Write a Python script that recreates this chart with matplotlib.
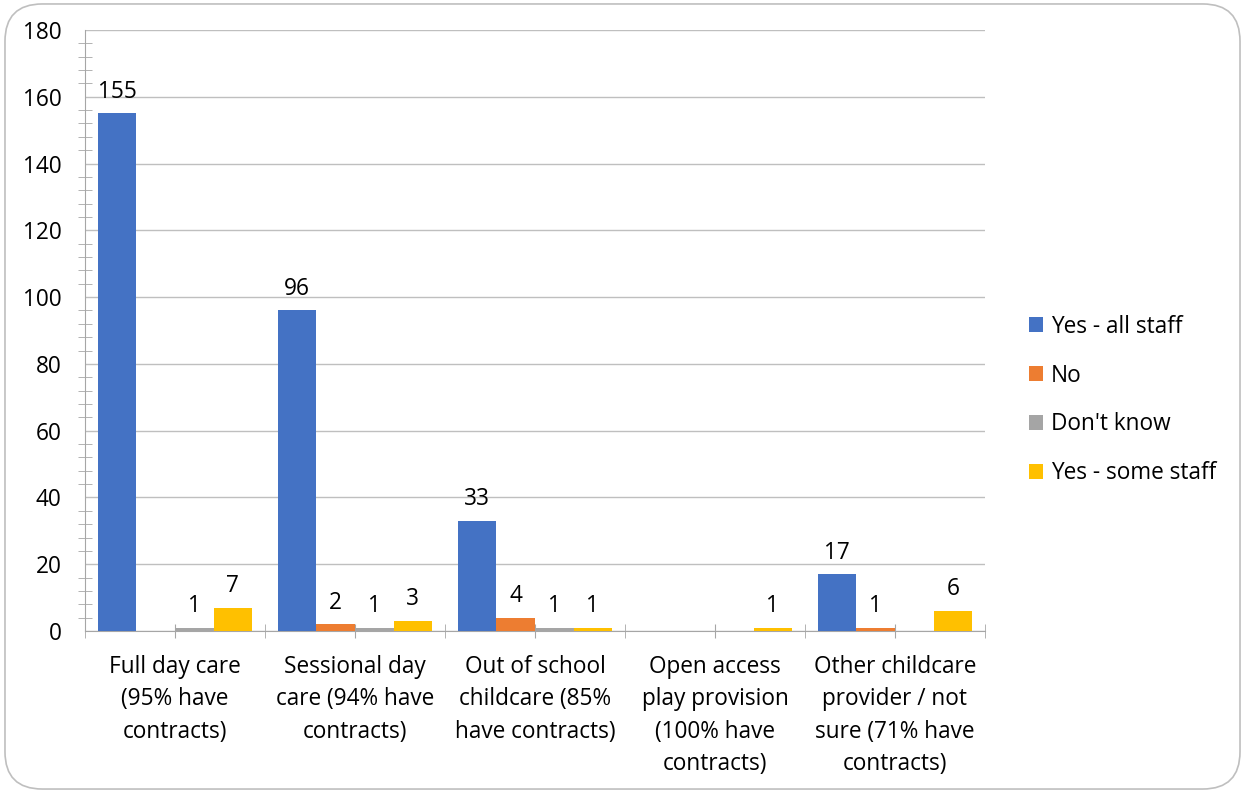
import numpy as np
import matplotlib.pyplot as plt
from matplotlib.patches import FancyBboxPatch
from matplotlib.ticker import MultipleLocator

plt.rcParams['font.family'] = ['Open Sans', 'DejaVu Sans']

categories = [
    'Full day care\n(95% have\ncontracts)',
    'Sessional day\ncare (94% have\ncontracts)',
    'Out of school\nchildcare (85%\nhave contracts)',
    'Open access\nplay provision\n(100% have\ncontracts)',
    'Other childcare\nprovider / not\nsure (71% have\ncontracts)',
]
series_names = ['Yes - all staff', 'No', "Don't know", 'Yes - some staff']
yes_all = [155, 96, 33, 0, 17]
no = [0, 2, 4, 0, 1]
dont_know = [1, 1, 1, 0, 0]
yes_some = [7, 3, 1, 1, 6]
colors = ['#4472C4', '#ED7D31', '#A5A5A5', '#FFC000']

fs = 16.3

fig = plt.figure(figsize=(12.45, 7.93), dpi=100)
ax = fig.add_axes([85 / 1245, 1 - 631 / 793, 900 / 1245, 601 / 793])

# rounded outline round the whole chart
fig.patches.append(FancyBboxPatch((0.004, 0.005), 0.992, 0.99,
                                  boxstyle='round,pad=0,rounding_size=0.03',
                                  transform=fig.transFigure, fill=False,
                                  edgecolor='#BFBFBF', linewidth=1.2,
                                  mutation_aspect=1245 / 793))

x = np.arange(len(categories))
width = 0.214
offsets = (np.arange(4) - 1.5) * width
for vals, name, col, off in zip([yes_all, no, dont_know, yes_some],
                                series_names, colors, offsets):
    bars = ax.bar(x + off, vals, width, color=col, label=name, zorder=3)
    for b, v in zip(bars, vals):
        if v > 0:
            ax.annotate(str(v), (b.get_x() + b.get_width() / 2, v),
                        xytext=(0, 7), textcoords='offset points',
                        ha='center', va='bottom', fontsize=fs)

ax.set_xlim(-0.5, len(categories) - 0.5)
ax.set_ylim(0, 180)
ax.yaxis.set_major_locator(MultipleLocator(20))
ax.yaxis.set_minor_locator(MultipleLocator(4))
ax.grid(axis='y', color='#BFBFBF', linewidth=1, zorder=0)
ax.set_axisbelow(True)

ax.set_xticks(x)
ax.set_xticklabels(categories, fontsize=fs, linespacing=1.47)
ax.set_xticks(np.arange(len(categories) + 1) - 0.5, minor=True)
ax.tick_params(axis='x', which='both', length=10, direction='inout',
               color='#A6A6A6', pad=12)
ax.tick_params(axis='y', which='both', length=10, direction='inout',
               color='#A6A6A6', labelsize=fs, pad=17)
ax.tick_params(axis='y', which='major', length=0)

for side in ['top', 'right']:
    ax.spines[side].set_visible(False)
for side in ['left', 'bottom']:
    ax.spines[side].set_color('#A6A6A6')

ax.legend(loc='center left', bbox_to_anchor=(1018 / 1245, 1 - 400 / 793),
          bbox_transform=fig.transFigure, frameon=False, fontsize=fs,
          handlelength=0.6, handleheight=0.6, handletextpad=0.35,
          labelspacing=1.1, borderpad=0)

fig.savefig('out.png', dpi=100)
